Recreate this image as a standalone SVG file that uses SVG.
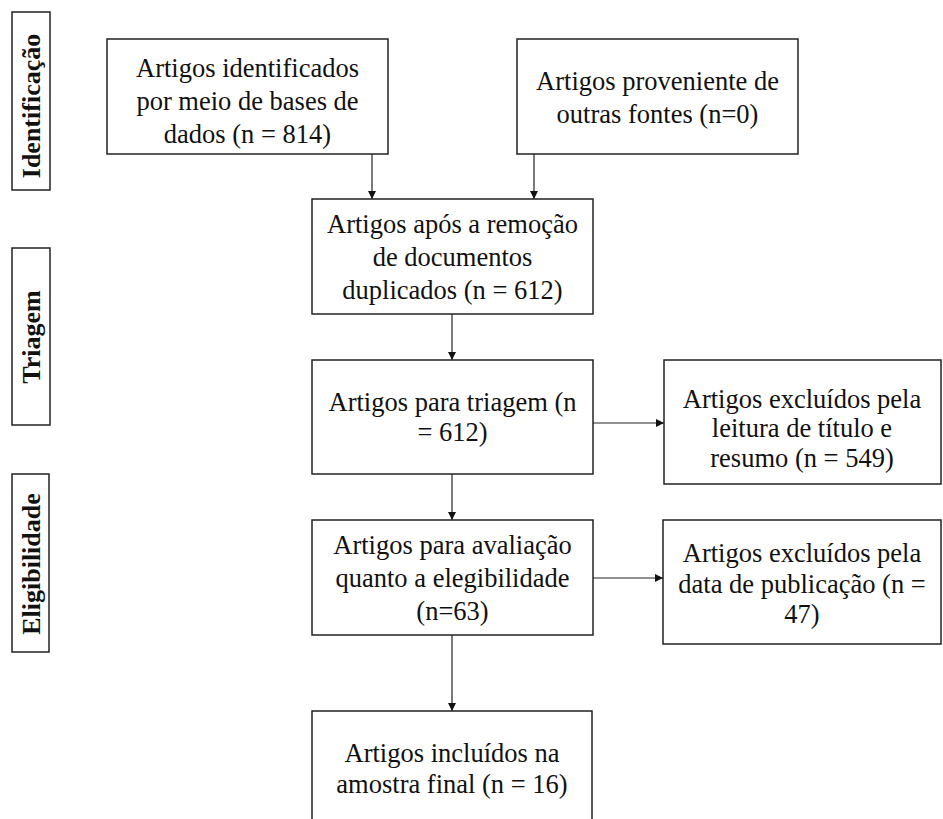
<svg xmlns="http://www.w3.org/2000/svg" width="943" height="819" viewBox="0 0 943 819">
<style>
.box{fill:#fff;stroke:#222;stroke-width:1.5}
.t{font-family:"Liberation Serif","Times New Roman",serif;font-size:26.5px;fill:#111;text-anchor:middle}
.lbl{font-family:"Liberation Serif","Times New Roman",serif;font-size:26px;font-weight:bold;fill:#111;text-anchor:middle}
.c{fill:none;stroke:#222;stroke-width:1.2}
</style>
<defs>
<marker id="ah" markerUnits="userSpaceOnUse" markerWidth="10" markerHeight="10" refX="8" refY="4" orient="auto">
<path d="M0,0 L8,4 L0,8 z" fill="#111"/>
</marker>
</defs>
<rect width="943" height="819" fill="#fff"/>
<g id="stage-identificacao">
<rect class="box" x="12" y="12" width="38" height="178"/>
<text class="lbl" transform="translate(40,106) rotate(-90)">Identificação</text>
</g>
<g id="stage-triagem">
<rect class="box" x="12" y="248" width="38" height="177"/>
<text class="lbl" transform="translate(40,337) rotate(-90)">Triagem</text>
</g>
<g id="stage-elegibilidade">
<rect class="box" x="12" y="474" width="37" height="178"/>
<text class="lbl" transform="translate(40,564) rotate(-90)">Eligibilidade</text>
</g>
<g id="n-bases">
<rect class="box" x="107" y="39" width="281" height="115"/>
<text class="t" x="247.5" y="77">Artigos identificados</text>
<text class="t" x="247.5" y="110">por meio de bases de</text>
<text class="t" x="247.5" y="143">dados (n = 814)</text>
</g>
<g id="n-outras">
<rect class="box" x="517" y="39" width="281" height="115"/>
<text class="t" x="657.5" y="90">Artigos proveniente de</text>
<text class="t" x="657.5" y="123">outras fontes (n=0)</text>
</g>
<g id="n-apos">
<rect class="box" x="312" y="199" width="281" height="115"/>
<text class="t" x="452.5" y="233">Artigos após a remoção</text>
<text class="t" x="452.5" y="266">de documentos</text>
<text class="t" x="452.5" y="299">duplicados (n = 612)</text>
</g>
<g id="n-triagem">
<rect class="box" x="312" y="360" width="281" height="114"/>
<text class="t" x="452.5" y="411">Artigos para triagem (n</text>
<text class="t" x="452.5" y="441">= 612)</text>
</g>
<g id="n-excl1">
<rect class="box" x="664" y="360" width="277" height="124"/>
<text class="t" x="802" y="408">Artigos excluídos pela</text>
<text class="t" x="802" y="437">leitura de título e</text>
<text class="t" x="802" y="467">resumo (n = 549)</text>
</g>
<g id="n-avaliacao">
<rect class="box" x="312" y="520" width="281" height="115"/>
<text class="t" x="452.5" y="554">Artigos para avaliação</text>
<text class="t" x="452.5" y="587">quanto a elegibilidade</text>
<text class="t" x="452.5" y="620">(n=63)</text>
</g>
<g id="n-excl2">
<rect class="box" x="663" y="520" width="278" height="124"/>
<text class="t" x="802" y="562">Artigos excluídos pela</text>
<text class="t" x="802" y="593">data de publicação (n =</text>
<text class="t" x="802" y="623">47)</text>
</g>
<g id="n-final">
<rect class="box" x="312" y="711" width="280" height="130"/>
<text class="t" x="452" y="762">Artigos incluídos na</text>
<text class="t" x="452" y="793">amostra final (n = 16)</text>
</g>
<g id="connectors">
<line class="c" x1="372" y1="154" x2="372" y2="199" marker-end="url(#ah)"/>
<line class="c" x1="534" y1="154" x2="534" y2="199" marker-end="url(#ah)"/>
<line class="c" x1="452" y1="314" x2="452" y2="360" marker-end="url(#ah)"/>
<line class="c" x1="452" y1="474" x2="452" y2="520" marker-end="url(#ah)"/>
<line class="c" x1="452" y1="635" x2="452" y2="711" marker-end="url(#ah)"/>
<line class="c" x1="593" y1="423" x2="664" y2="423" stroke="#666" marker-end="url(#ah)"/>
<line class="c" x1="593" y1="578" x2="663" y2="578" marker-end="url(#ah)"/>
</g>
</svg>
